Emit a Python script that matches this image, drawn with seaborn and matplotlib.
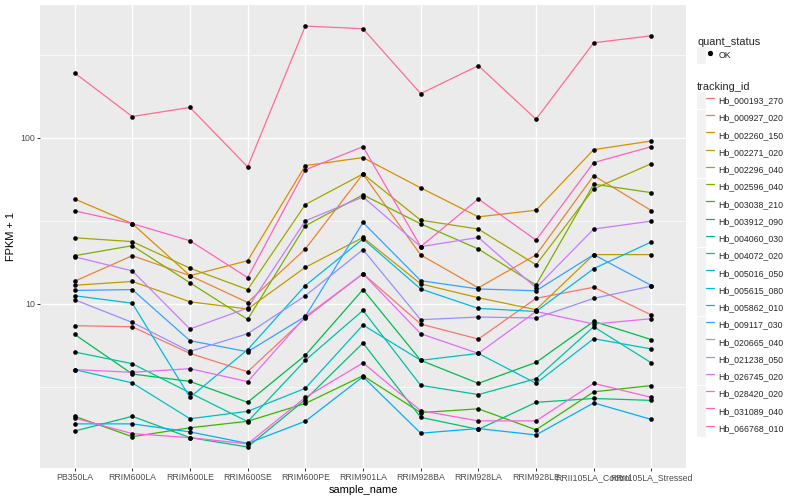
import numpy as np
import pandas as pd
import matplotlib
matplotlib.use("Agg")
import matplotlib.pyplot as plt
import seaborn as sns
from matplotlib.lines import Line2D
from matplotlib.patches import Patch
from matplotlib.legend_handler import HandlerTuple
from matplotlib.ticker import FixedLocator, FixedFormatter, NullFormatter

samples = ["PB350LA", "RRIM600LA", "RRIM600LE", "RRIM600SE", "RRIM600PE", "RRIM901LA",
           "RRIM928BA", "RRIM928LA", "RRIM928LE", "RRII105LA_Control", "RRII105LA_Stressed"]

tracking_ids = ["Hb_000193_270", "Hb_000927_020", "Hb_002260_150", "Hb_002271_020",
                "Hb_002296_040", "Hb_002596_040", "Hb_003038_210", "Hb_003912_090",
                "Hb_004060_030", "Hb_004072_020", "Hb_005016_050", "Hb_005615_080",
                "Hb_005862_010", "Hb_009117_030", "Hb_020665_040", "Hb_021238_050",
                "Hb_026745_020", "Hb_028420_020", "Hb_031089_040", "Hb_066768_010"]

# FPKM + 1, one value per sample (same order as samples)
hb_000193_270 = [7.40, 7.29, 5.04, 3.91, 8.23, 15.2, 7.57, 6.15, 10.8, 12.6, 8.58]
hb_000927_020 = [13.7, 19.5, 14.8, 10.2, 21.4, 60.5, 19.7, 12.5, 19.7, 59.1, 36.4]
hb_002260_150 = [42.8, 30.4, 14.8, 18.2, 67.9, 75.9, 49.9, 33.4, 36.6, 84.7, 95.5]
hb_002271_020 = [12.95, 13.65, 10.3, 9.32, 16.6, 25.1, 13.2, 10.9, 9.23, 19.8, 19.8]
hb_002296_040 = [25.0, 23.7, 16.4, 12.2, 39.6, 60.5, 31.9, 28.2, 17.2, 49.2, 69.8]
hb_002596_040 = [19.5, 22.4, 13.4, 8.07, 29.5, 45.3, 30.3, 21.4, 13.0, 52.5, 46.7]
hb_003038_210 = [2.11, 1.59, 1.80, 1.97, 2.52, 3.70, 2.22, 2.34, 1.75, 2.96, 3.23]
hb_003912_090 = [6.56, 3.79, 3.42, 2.56, 4.91, 12.2, 4.58, 3.33, 4.45, 7.85, 6.10]
hb_004060_030 = [1.72, 2.11, 1.57, 1.38, 2.66, 5.82, 2.08, 1.76, 2.56, 2.70, 2.63]
hb_004072_020 = [5.14, 4.37, 2.92, 1.96, 4.58, 9.14, 3.24, 2.85, 3.55, 7.29, 4.42]
hb_005016_050 = [4.03, 3.35, 2.04, 2.26, 3.11, 7.47, 4.58, 5.04, 3.33, 6.18, 5.36]
hb_005615_080 = [11.2, 10.1, 2.74, 5.31, 12.9, 24.6, 12.3, 9.40, 9.01, 16.3, 23.6]
hb_005862_010 = [1.90, 1.90, 1.70, 1.45, 1.97, 3.65, 1.67, 1.78, 1.63, 2.54, 2.02]
hb_009117_030 = [12.05, 12.2, 6.01, 5.16, 8.41, 30.9, 13.8, 12.3, 12.0, 19.8, 12.9]
hb_020665_040 = [10.6, 7.74, 5.18, 6.62, 11.2, 21.2, 8.04, 8.34, 8.23, 10.8, 12.8]
hb_021238_050 = [19.2, 15.8, 7.07, 9.45, 31.6, 44.0, 22.1, 25.1, 12.5, 28.2, 31.5]
hb_026745_020 = [4.03, 3.88, 4.08, 3.41, 8.38, 15.2, 6.62, 5.04, 9.01, 7.57, 8.15]
hb_028420_020 = [2.06, 1.66, 1.57, 1.44, 2.74, 4.42, 2.28, 1.98, 1.98, 3.33, 2.74]
hb_031089_040 = [36.3, 30.4, 24.0, 14.4, 64.0, 88.3, 22.1, 42.8, 24.2, 70.8, 88.3]
hb_066768_010 = [245, 134, 152, 66.7, 469, 452, 184, 271, 129, 372, 410]

series = [hb_000193_270, hb_000927_020, hb_002260_150, hb_002271_020, hb_002296_040,
          hb_002596_040, hb_003038_210, hb_003912_090, hb_004060_030, hb_004072_020,
          hb_005016_050, hb_005615_080, hb_005862_010, hb_009117_030, hb_020665_040,
          hb_021238_050, hb_026745_020, hb_028420_020, hb_031089_040, hb_066768_010]

# ggplot default hue palette for 20 levels
palette = ["#F8766D", "#EA8331", "#D89000", "#C09B00", "#A3A500", "#7CAE00", "#39B600",
           "#00BB4E", "#00BF7D", "#00C1A3", "#00BFC4", "#00BAE0", "#00B0F6", "#35A2FF",
           "#9590FF", "#C77CFF", "#E76BF3", "#FA62DB", "#FF62BC", "#FF6C91"]

rows = []
for tid, vals in zip(tracking_ids, series):
    for pos, (s, v) in enumerate(zip(samples, vals)):
        rows.append({"tracking_id": tid, "sample_name": s, "pos": pos, "fpkm": v, "quant_status": "OK"})
df = pd.DataFrame(rows)

sns.set_theme(style="darkgrid")
plt.rcParams["font.family"] = ["Liberation Sans", "DejaVu Sans"]

fig = plt.figure(figsize=(8, 5), dpi=100)
ax = fig.add_axes([40 / 800, 1 - 468 / 500, 646 / 800, 463 / 500])
ax.set_facecolor("#EBEBEB")

sns.lineplot(data=df, x="pos", y="fpkm", hue="tracking_id", hue_order=tracking_ids,
             palette=palette, estimator=None, sort=False, linewidth=0.9, legend=False, ax=ax)
sns.scatterplot(data=df, x="pos", y="fpkm", color="black", s=11, linewidth=0,
                legend=False, ax=ax, zorder=3)

ax.set_yscale("log")
lo, hi = np.log10(df["fpkm"].min()), np.log10(df["fpkm"].max())
pad = 0.05 * (hi - lo)
ax.set_ylim(10 ** (lo - pad), 10 ** (hi + pad))
ax.set_xlim(-0.6, len(samples) - 0.4)

ax.yaxis.set_major_locator(FixedLocator([10, 100]))
ax.yaxis.set_major_formatter(FixedFormatter(["10", "100"]))
ax.yaxis.set_minor_locator(FixedLocator([10 ** 0.5, 10 ** 1.5, 10 ** 2.5]))
ax.yaxis.set_minor_formatter(NullFormatter())
ax.set_xticks(range(len(samples)))
ax.set_xticklabels(samples)

ax.grid(which="major", color="white", linewidth=1.0)
ax.grid(which="minor", color="white", linewidth=0.5)
ax.tick_params(which="major", length=2, width=0.7, color="#333333", pad=1.5,
               labelsize=6.3, labelcolor="#4D4D4D", bottom=True, left=True)
ax.tick_params(which="minor", length=0)
for sp in ax.spines.values():
    sp.set_visible(False)

ax.set_xlabel("sample_name", fontsize=7.9, color="black", labelpad=2)
ax.set_ylabel("FPKM + 1", fontsize=7.9, color="black", labelpad=3)

# Legends (grey key boxes like ggplot)
key_bg = "#F2F2F2"
leg_kw = dict(loc="upper left", bbox_transform=fig.transFigure, frameon=False,
              fontsize=6.3, title_fontsize=7.9, alignment="left",
              handlelength=1.95, handleheight=2.61, handletextpad=0.5,
              borderpad=0, borderaxespad=0, labelspacing=0.03,
              handler_map={tuple: HandlerTuple(ndivide=None)})

h1 = [(Patch(facecolor=key_bg, edgecolor="none"),
       Line2D([], [], marker="o", color="black", linestyle="none", markersize=2.8))]
leg1 = ax.legend(handles=h1, labels=["OK"], title="quant_status",
                 bbox_to_anchor=(697 / 800, 1 - 37 / 500), **leg_kw)
ax.add_artist(leg1)

h2 = [(Patch(facecolor=key_bg, edgecolor="none"), Line2D([], [], color=c, linewidth=0.9))
      for c in palette]
leg2 = ax.legend(handles=h2, labels=tracking_ids, title="tracking_id",
                 bbox_to_anchor=(697 / 800, 1 - 82 / 500), **leg_kw)

fig.savefig("out.png", dpi=100, facecolor="white")
